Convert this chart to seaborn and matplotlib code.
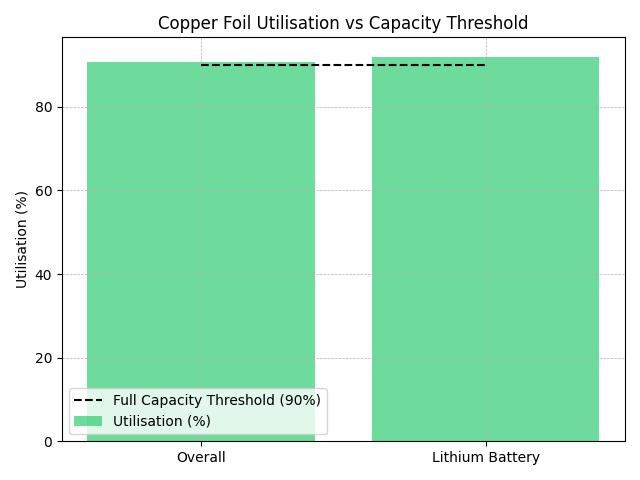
import pandas as pd
import matplotlib
matplotlib.use("Agg")
import matplotlib.pyplot as plt
import seaborn as sns

categories = ["Overall", "Lithium Battery"]
utilisation = [90.8, 92.0]
threshold = 90

df = pd.DataFrame({"Category": categories, "Utilisation (%)": utilisation})

fig, ax = plt.subplots(figsize=(6.4, 4.8), dpi=100)

sns.barplot(data=df, x="Category", y="Utilisation (%)", color="#2ecc71",
            alpha=0.7, saturation=1, width=0.8, label="Utilisation (%)", ax=ax)

ax.plot([0, len(categories) - 1], [threshold, threshold], color="black",
        linestyle="--", label="Full Capacity Threshold (90%)")

ax.set_title("Copper Foil Utilisation vs Capacity Threshold")
ax.set_xlabel("")
ax.set_ylabel("Utilisation (%)")
ax.grid(True, linestyle="--", linewidth=0.5)
ax.legend(loc="lower left")

plt.tight_layout()
plt.savefig("out.png")
